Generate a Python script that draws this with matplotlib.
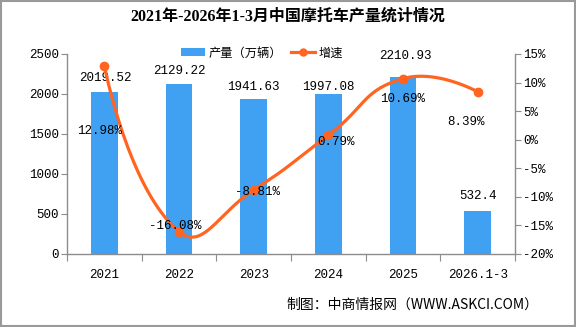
import numpy as np
import matplotlib
matplotlib.use("Agg")
import matplotlib.pyplot as plt
from matplotlib.patches import Patch, Rectangle
from matplotlib.lines import Line2D

# ---- data ----
categories = ["2021", "2022", "2023", "2024", "2025", "2026.1-3"]
output = [2019.52, 2129.22, 1941.63, 1997.08, 2210.93, 532.4]      # 万辆
growth = [12.98, -16.08, -8.81, 0.79, 10.69, 8.39]                 # %
left_ticks = [0, 500, 1000, 1500, 2000, 2500]
right_ticks = [-20, -15, -10, -5, 0, 5, 10, 15]

# label offsets in pixels (dx, dy; dy positive = up)
bar_label_offsets = [(1, 14), (0, 13), (0, 12), (0, 7), (2, 21), (0, 15)]
rate_label_offsets = [(-5, -65), (-4, 6), (4, -2), (8, -7), (0, -20), (-12, -30)]

BAR_COLOR = "#40A0F2"
LINE_COLOR = "#FF6420"
AXIS_COLOR = "#8C8C8C"

num_font = ["Liberation Mono", "Noto Sans CJK SC"]
cjk_font = ["Noto Sans CJK SC", "DejaVu Sans"]

DPI = 100
fig = plt.figure(figsize=(5.76, 3.27), dpi=DPI)
W, H = 576, 327
ax = fig.add_axes([67 / W, 1 - 254 / H, (515 - 67) / W, 200 / H])
ax2 = ax.twinx()

x = np.arange(len(categories))
ax.bar(x, output, width=0.36, color=BAR_COLOR, zorder=2)
ax.set_xlim(-0.5, len(categories) - 0.5)
ax.set_ylim(0, 2500)
ax2.set_ylim(-20, 15)

# axes styling
for a in (ax, ax2):
    a.spines["top"].set_visible(False)
    for s in a.spines.values():
        s.set_color(AXIS_COLOR)
        s.set_linewidth(1.0)
ax.spines["right"].set_visible(False)
ax2.spines["left"].set_visible(False)
ax2.spines["bottom"].set_visible(False)

ax.set_yticks(left_ticks)
ax.set_yticklabels([str(v) for v in left_ticks], fontfamily=num_font, fontsize=9)
ax.tick_params(axis="y", direction="out", length=4, color=AXIS_COLOR, pad=2)

ax2.set_yticks(right_ticks)
ax2.set_yticklabels([f"{v}%" for v in right_ticks], fontfamily=num_font, fontsize=9)
ax2.tick_params(axis="y", direction="out", length=4, color=AXIS_COLOR, pad=2)

ax.set_xticks(np.arange(-0.5, len(categories), 1.0))
ax.set_xticklabels([])
ax.set_xticks(x, minor=True)
ax.set_xticklabels(categories, minor=True, fontfamily=num_font, fontsize=9)
ax.tick_params(axis="x", which="major", direction="out", length=5, color=AXIS_COLOR)
ax.tick_params(axis="x", which="minor", length=0, pad=11)

# smooth growth line (bezier smoothing in display space)
pts = ax2.transData.transform(np.column_stack([x, growth]))
n = len(pts)
smooth = 0.5
cp_in = [None] * n
cp_out = [None] * n
for i in range(n):
    if i == 0 or i == n - 1:
        cp_in[i] = pts[i].copy()
        cp_out[i] = pts[i].copy()
        continue
    v = pts[i + 1] - pts[i - 1]
    d0 = np.hypot(*(pts[i] - pts[i - 1]))
    d1 = np.hypot(*(pts[i + 1] - pts[i]))
    s = d0 + d1
    cp_in[i] = pts[i] - v * smooth * d0 / s
    cp_out[i] = pts[i] + v * smooth * d1 / s
curve = [pts[0]]
t = np.linspace(0, 1, 40)[1:, None]
for i in range(n - 1):
    p0, p1, p2, p3 = pts[i], cp_out[i], cp_in[i + 1], pts[i + 1]
    seg = ((1 - t) ** 3) * p0 + 3 * ((1 - t) ** 2) * t * p1 + 3 * (1 - t) * t ** 2 * p2 + t ** 3 * p3
    curve.extend(seg)
curve = ax2.transData.inverted().transform(np.array(curve))
ax2.plot(curve[:, 0], curve[:, 1], color=LINE_COLOR, lw=2.3, zorder=3,
         solid_capstyle="round")
ax2.plot(x, growth, "o", color=LINE_COLOR, ms=6, zorder=4)
ax2.set_zorder(ax.get_zorder() + 1)
ax2.patch.set_visible(False)

px = 72.0 / DPI
for i, v in enumerate(output):
    dx, dy = bar_label_offsets[i]
    ax.annotate(f"{v:g}", (x[i], v),
                xytext=(dx * px, dy * px), textcoords="offset points",
                ha="center", va="center", fontfamily=num_font, fontsize=9,
                color="black", zorder=5)
for i, g in enumerate(growth):
    dx, dy = rate_label_offsets[i]
    ax2.annotate(f"{g:.2f}%", (x[i], g), xytext=(dx * px, dy * px),
                 textcoords="offset points", ha="center", va="center",
                 fontfamily=num_font, fontsize=9, color="black", zorder=5)

# title
fig.text(0.5, 1 - 17 / H, "2021年-2026年1-3月中国摩托车产量统计情况",
         ha="center", va="center", fontsize=11.5, fontweight="bold",
         fontfamily=["Liberation Serif", "Noto Sans CJK SC"])

# legend
handles = [Patch(facecolor=BAR_COLOR, edgecolor="none"),
           Line2D([0], [0], color=LINE_COLOR, lw=2.3, marker="o", ms=5)]
fig.legend(handles, ["产量（万辆）", "增速"], loc="center",
           bbox_to_anchor=(262 / W, 1 - 53 / H), ncol=2, frameon=False,
           prop={"family": cjk_font, "size": 8.8}, handlelength=2.0,
           handleheight=0.55, handletextpad=0.3, columnspacing=0.7,
           borderpad=0)

# source note
fig.text(538 / W, 1 - 305 / H, "制图：中商情报网（WWW.ASKCI.COM）",
         ha="right", va="center", fontsize=10, fontfamily=cjk_font)

# outer frame
fig.patches.append(Rectangle((0.001, 0.002), 0.997, 0.996, transform=fig.transFigure,
                             fill=False, ec="#999999", lw=1.5))

fig.savefig("out.png", dpi=DPI)
